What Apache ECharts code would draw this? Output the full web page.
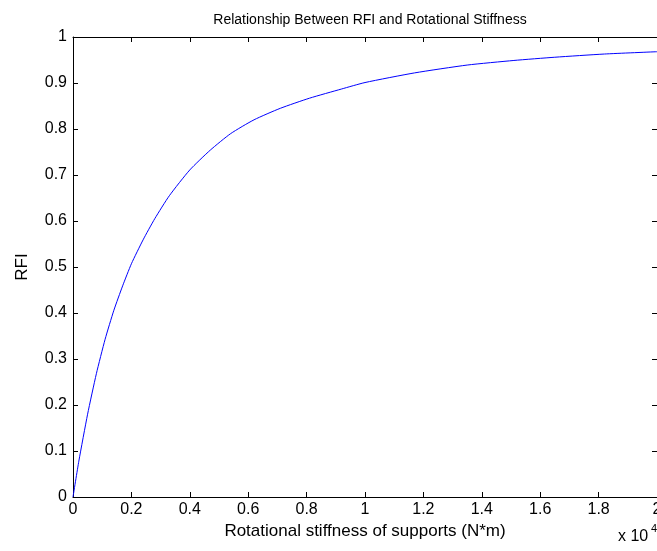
<!DOCTYPE html>
<html>
<head>
<meta charset="utf-8">
<script src="https://cdn.jsdelivr.net/npm/echarts@6/dist/echarts.min.js"></script>
<style>
html, body { margin: 0; padding: 0; background: #fff; }
#main { width: 657px; height: 551px; }
</style>
</head>
<body>
<div id="main"></div>
<script>
// stiffness in units of 10^4 N*m
var stiffness = [0, 0.02, 0.05, 0.08, 0.11, 0.14, 0.17, 0.20, 0.24, 0.28, 0.33, 0.40, 0.47, 0.54, 0.62, 0.71, 0.81, 0.92, 1.0, 1.17, 1.35, 1.51, 1.65, 1.82, 2.0];
var rfi = [0, 0.078, 0.180, 0.268, 0.343, 0.406, 0.459, 0.507, 0.559, 0.605, 0.655, 0.711, 0.754, 0.790, 0.820, 0.845, 0.867, 0.887, 0.901, 0.922, 0.939, 0.949, 0.956, 0.963, 0.968];

var points = [];
for (var i = 0; i < stiffness.length; i++) {
    points.push([stiffness[i], rfi[i]]);
}

var font = 'Liberation Sans, Arial, sans-serif';
var fmt = function (v) { return String(Math.round(v * 10) / 10); };
var frameLine = { show: true, onZero: false, lineStyle: { color: '#000', width: 1 } };
var frameTick = { show: true, inside: true, length: 5, lineStyle: { color: '#000', width: 1 } };

var chart = echarts.init(document.getElementById('main'));
var option = {
    animation: false,
    backgroundColor: '#fff',
    title: {
        text: 'Relationship Between RFI and Rotational Stiffness',
        left: 365, top: 8, textAlign: 'center',
        textStyle: { fontFamily: font, fontSize: 14, fontWeight: 'normal', color: '#000' }
    },
    grid: { left: 73, right: 0, top: 37, bottom: 54, outerBoundsMode: 'none', containLabel: false },
    xAxis: [{
        type: 'value', min: 0, max: 2, interval: 0.2, position: 'bottom',
        name: 'Rotational stiffness of supports (N*m)',
        nameLocation: 'middle', nameGap: 19,
        nameTextStyle: { fontFamily: font, fontSize: 17, color: '#000' },
        axisLine: frameLine, axisTick: frameTick,
        axisLabel: { fontFamily: font, fontSize: 16, color: '#000', margin: 5, formatter: fmt },
        splitLine: { show: false }
    }, {
        type: 'value', min: 0, max: 2, interval: 0.2, position: 'top',
        axisLine: frameLine, axisTick: frameTick,
        axisLabel: { show: false },
        splitLine: { show: false }
    }],
    yAxis: [{
        type: 'value', min: 0, max: 1, interval: 0.1, position: 'left',
        name: 'RFI', nameLocation: 'middle', nameGap: 42,
        nameTextStyle: { fontFamily: font, fontSize: 17, color: '#000' },
        axisLine: frameLine, axisTick: frameTick,
        axisLabel: { fontFamily: font, fontSize: 16, color: '#000', margin: 6, formatter: fmt },
        splitLine: { show: false }
    }, {
        type: 'value', min: 0, max: 1, interval: 0.1, position: 'right',
        axisLine: frameLine, axisTick: frameTick,
        axisLabel: { show: false },
        splitLine: { show: false }
    }],
    graphic: [{
        type: 'text', left: 618, top: 529,
        style: { text: 'x 10', fontFamily: font, fontSize: 16, fill: '#000' }
    }, {
        type: 'text', left: 651, top: 523,
        style: { text: '4', fontFamily: font, fontSize: 11, fill: '#000' }
    }],
    series: [{
        type: 'line', xAxisIndex: 0, yAxisIndex: 0,
        data: points, showSymbol: false, smooth: 0.2,
        lineStyle: { color: '#0000ff', width: 1 }
    }, {
        // empty series so the top and right frame axes are drawn
        type: 'line', xAxisIndex: 1, yAxisIndex: 1,
        data: [], showSymbol: false, silent: true
    }]
};
chart.setOption(option);
</script>
</body>
</html>
